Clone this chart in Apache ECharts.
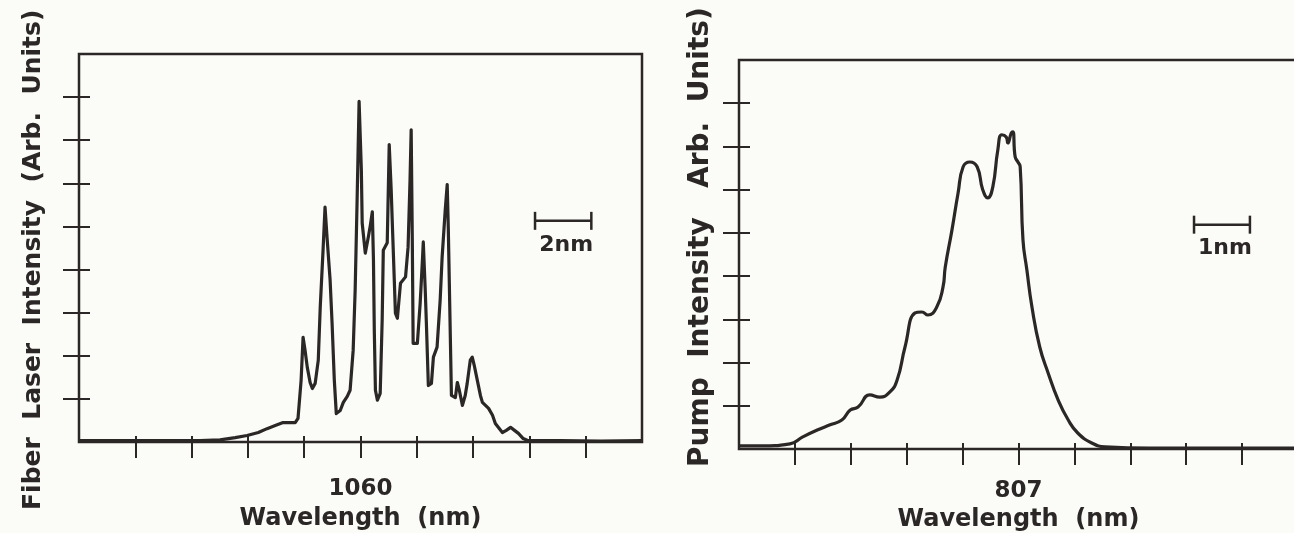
<!DOCTYPE html>
<html>
<head>
<meta charset="utf-8">
<title>Fiber laser and pump spectra</title>
<script src="https://cdn.jsdelivr.net/npm/echarts@6/dist/echarts.min.js"></script>
<style>
  html, body { margin: 0; padding: 0; background: #fbfbf7; }
  #chart { width: 1294px; height: 533px; }
</style>
</head>
<body>
<div id="chart"></div>
<script>
// fiber laser output spectrum (left panel), wavelength in nm
var fiberWavelength = [
  1050.00, 1052.53, 1054.30, 1055.01, 1055.55, 1055.97, 1056.37, 1056.68, 1056.97, 1057.25,
  1057.68, 1057.78, 1057.89, 1057.96, 1058.03, 1058.11, 1058.21, 1058.29, 1058.39, 1058.50,
  1058.57, 1058.67, 1058.74, 1058.81, 1058.92, 1058.99, 1059.07, 1059.14, 1059.28, 1059.39,
  1059.53, 1059.63, 1059.74, 1059.81, 1059.88, 1059.95, 1060.03, 1060.06, 1060.17, 1060.28,
  1060.35, 1060.42, 1060.46, 1060.49, 1060.53, 1060.60, 1060.70, 1060.77, 1060.81, 1060.95,
  1061.02, 1061.09, 1061.13, 1061.20, 1061.24, 1061.31, 1061.42, 1061.60, 1061.69, 1061.76,
  1061.80, 1061.84, 1061.87, 1062.02, 1062.12, 1062.20, 1062.23, 1062.30, 1062.34, 1062.41,
  1062.52, 1062.59, 1062.72, 1062.83, 1062.90, 1063.01, 1063.08, 1063.12, 1063.16, 1063.23,
  1063.37, 1063.44, 1063.51, 1063.62, 1063.72, 1063.79, 1063.90, 1063.97, 1064.04, 1064.15,
  1064.26, 1064.33, 1064.44, 1064.55, 1064.69, 1064.79, 1065.04, 1065.18, 1065.33, 1065.47,
  1065.61, 1065.78, 1065.96, 1067.10, 1068.53, 1070.00
];
var fiberIntensity = [
  0.03, 0.03, 0.03, 0.05, 0.10, 0.15, 0.22, 0.31, 0.38, 0.45,
  0.45, 0.55, 1.43, 2.43, 2.13, 1.73, 1.38, 1.24, 1.36, 1.90,
  3.13, 4.45, 5.45, 4.76, 3.76, 2.76, 1.43, 0.66, 0.73, 0.92,
  1.06, 1.20, 2.13, 3.52, 5.62, 7.90, 6.31, 5.08, 4.38, 4.76,
  5.03, 5.34, 4.22, 2.59, 1.20, 0.97, 1.13, 2.83, 4.45, 4.62,
  6.90, 5.85, 5.08, 3.76, 2.99, 2.87, 3.68, 3.83, 4.52, 6.08,
  7.24, 4.69, 2.29, 2.29, 3.22, 4.22, 4.64, 3.52, 2.76, 1.31,
  1.36, 1.97, 2.20, 3.29, 4.29, 5.38, 5.97, 4.92, 3.52, 1.08,
  1.03, 1.38, 1.20, 0.85, 1.08, 1.36, 1.90, 1.97, 1.78, 1.43,
  1.08, 0.92, 0.85, 0.78, 0.62, 0.43, 0.22, 0.27, 0.34, 0.27,
  0.20, 0.08, 0.03, 0.03, 0.02, 0.03
];

// pump diode spectrum (right panel)
var pumpWavelength = [
  802.00, 802.38, 802.91, 803.14, 803.40, 803.63, 803.84, 803.99, 804.13, 804.34,
  804.52, 804.70, 804.83, 804.97, 805.15, 805.27, 805.38, 805.54, 805.65, 805.69,
  805.81, 805.92, 806.01, 806.13, 806.26, 806.36, 806.45, 806.54, 806.63, 806.70,
  806.78, 806.81, 806.87, 806.90, 806.94, 806.99, 807.03, 807.08, 807.15, 807.24,
  807.38, 807.53, 807.71, 807.89, 808.06, 808.31, 808.55, 809.35, 812.00
];
var pumpIntensity = [
  0.07, 0.07, 0.12, 0.28, 0.44, 0.56, 0.67, 0.90, 0.97, 1.25,
  1.20, 1.32, 1.60, 2.36, 3.15, 3.17, 3.10, 3.29, 3.75, 4.21,
  5.07, 5.93, 6.53, 6.64, 6.53, 6.00, 5.81, 6.06, 6.92, 7.27,
  7.22, 7.08, 7.31, 7.34, 6.76, 6.64, 6.53, 4.84, 4.14, 3.29,
  2.36, 1.76, 1.13, 0.67, 0.37, 0.14, 0.05, 0.02, 0.02
];

// ticks and labels
var fiberTicks = [1052, 1054, 1056, 1058, 1060, 1062, 1064, 1066, 1068];
var fiberLabels = [1060];
var pumpTicks = [803, 804, 805, 806, 807, 808, 809, 810, 811];
var pumpLabels = [807];
var intensityTicks = [1, 2, 3, 4, 5, 6, 7, 8];

// scale bars: [from, to, height, text]
var fiberBar = [1066.2, 1068.2, 5.13, '2nm'];
var pumpBar = [810.14, 811.14, 5.19, '1nm'];

var ink = '#2b2727';
var face = 'DejaVu Sans';
var clear = 'rgba(0,0,0,0)';

function pairs(xs, ys) {
  var out = [];
  for (var i = 0; i < xs.length; i++) {
    out.push([xs[i], ys[i]]);
  }
  return out;
}

function textStyle(size) {
  return {
    color: ink,
    fontFamily: face,
    fontWeight: 'bold',
    fontSize: size
  };
}

// the axis is pushed inside the frame (negative offset) so its ticks cross the frame line;
// the frame itself comes from the grid border
function xAxis(grid, min, max, ticks, labels, margin, gap) {
  return {
    type: 'value', gridIndex: grid, position: 'bottom', offset: -6,
    min: min, max: max, interval: ticks[1] - ticks[0],
    axisLine: { show: true, onZero: false, lineStyle: { color: clear, width: 1 } },
    axisTick: { show: true, inside: false, length: 22, customValues: ticks,
      lineStyle: { color: ink, width: 2 } },
    axisLabel: Object.assign(textStyle(23), {
      margin: margin,
      customValues: labels,
      formatter: function (v) { return labels.indexOf(v) >= 0 ? String(v) : ''; }
    }),
    splitLine: { show: false },
    name: 'Wavelength  (nm)',
    nameLocation: 'middle',
    nameGap: gap,
    nameTextStyle: textStyle(24)
  };
}

function yAxis(grid) {
  return {
    type: 'value', gridIndex: grid, position: 'left', offset: -11,
    min: 0, max: 9, interval: 1,
    axisLine: { show: true, onZero: false, lineStyle: { color: clear, width: 1 } },
    axisTick: { show: true, inside: false, length: 27, customValues: intensityTicks,
      lineStyle: { color: ink, width: 2 } },
    axisLabel: { show: false },
    splitLine: { show: false }
  };
}

function scaleBar(params, api) {
  var a = api.coord([api.value(0), api.value(2)]);
  var b = api.coord([api.value(1), api.value(2)]);
  var cap = 9;
  var line = { stroke: ink, lineWidth: 2.5 };
  return {
    type: 'group',
    children: [
      { type: 'line', shape: { x1: a[0], y1: a[1], x2: b[0], y2: b[1] }, style: line },
      { type: 'line', shape: { x1: a[0], y1: a[1] - cap, x2: a[0], y2: a[1] + cap }, style: line },
      { type: 'line', shape: { x1: b[0], y1: b[1] - cap, x2: b[0], y2: b[1] + cap }, style: line },
      { type: 'text', style: {
          text: api.value(3),
          x: (a[0] + b[0]) / 2 + 3, y: a[1] + 13,
          font: 'bold 22px "DejaVu Sans"',
          fill: ink,
          textAlign: 'center', align: 'center',
          textVerticalAlign: 'top', verticalAlign: 'top'
        } }
    ]
  };
}

var chart = echarts.init(document.getElementById('chart'), null, { renderer: 'canvas' });

var option = {
  backgroundColor: '#fbfbf7',
  animation: false,
  grid: [
    { left: 79, top: 54, right: 652, bottom: 91, show: true, outerBoundsMode: 'none',
      borderColor: ink, borderWidth: 2.5, backgroundColor: 'transparent' },
    { left: 739, top: 60, right: -4, bottom: 84, show: true, outerBoundsMode: 'none',
      borderColor: ink, borderWidth: 2.5, backgroundColor: 'transparent' }
  ],
  xAxis: [
    xAxis(0, 1050, 1070, fiberTicks, fiberLabels, 42, 71),
    xAxis(1, 802, 812, pumpTicks, pumpLabels, 37, 62)
  ],
  yAxis: [yAxis(0), yAxis(1)],
  graphic: [
    { type: 'text', x: 33, y: 510, rotation: Math.PI / 2,
      style: { text: 'Fiber  Laser  Intensity  (Arb.  Units)', font: 'bold 25px "DejaVu Sans"',
        fill: ink, textAlign: 'left', align: 'left', textVerticalAlign: 'middle', verticalAlign: 'middle' } },
    { type: 'text', x: 701, y: 467, rotation: Math.PI / 2,
      style: { text: 'Pump  Intensity   Arb.  Units)', font: 'bold 28px "DejaVu Sans"',
        fill: ink, textAlign: 'left', align: 'left', textVerticalAlign: 'middle', verticalAlign: 'middle' } }
  ],
  series: [
    {
      type: 'line', xAxisIndex: 0, yAxisIndex: 0,
      data: pairs(fiberWavelength, fiberIntensity),
      symbol: 'none', smooth: false,
      lineStyle: { color: ink, width: 3.2, join: 'round' }
    },
    {
      type: 'line', xAxisIndex: 1, yAxisIndex: 1,
      data: pairs(pumpWavelength, pumpIntensity),
      symbol: 'none', smooth: 0.5,
      lineStyle: { color: ink, width: 3.2, join: 'round' }
    },
    {
      type: 'custom', xAxisIndex: 0, yAxisIndex: 0, clip: false,
      renderItem: scaleBar, data: [fiberBar]
    },
    {
      type: 'custom', xAxisIndex: 1, yAxisIndex: 1, clip: false,
      renderItem: scaleBar, data: [pumpBar]
    }
  ]
};

chart.setOption(option);
</script>
</body>
</html>
